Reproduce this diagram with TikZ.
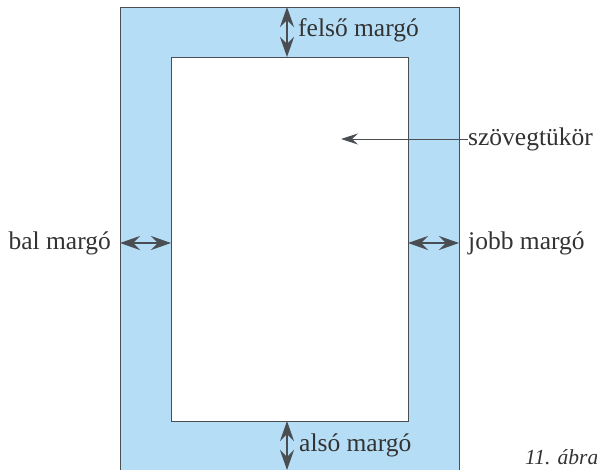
\documentclass[tikz,border=0pt]{standalone}
\usepackage{fontspec}
\setmainfont{Liberation Serif}
\usetikzlibrary{arrows.meta}
\definecolor{marginblue}{HTML}{B5DDF5}
\definecolor{inkgray}{HTML}{4A4E52}
\definecolor{textgray}{HTML}{333333}
\tikzset{
  lbl/.style={font=\fontsize{25.5}{28}\selectfont, text=textgray, inner sep=0pt},
  dimarrow/.style={draw=inkgray, line width=1.5pt, {Stealth[length=20pt,width=14pt,inset=7pt]}-{Stealth[length=20pt,width=14pt,inset=7pt]}},
  pointer/.style={draw=inkgray, line width=1pt, -{Stealth[length=17pt,width=11pt,inset=6pt]}},
  frame/.style={draw=inkgray, line width=1pt}
}
\begin{document}
\begin{tikzpicture}[x=1pt,y=-1pt]
  \useasboundingbox (0,0) rectangle (597,469);
  \clip (0,0) rectangle (597,469);
  % page with coloured margins and the text block
  \node[frame, fill=marginblue, minimum width=339pt, minimum height=480pt, anchor=north west, inner sep=0pt] (page) at (120,7) {};
  \node[frame, fill=white, minimum width=237pt, minimum height=364pt, anchor=north west, inner sep=0pt] (block) at (171,57) {};
  % margin arrows
  \coordinate (topA) at (287,7);
  \coordinate (topB) at (287,57);
  \coordinate (botA) at (287,421);
  \coordinate (botB) at (287,470);
  \coordinate (leftA) at (120,243);
  \coordinate (leftB) at (171,243);
  \coordinate (rightA) at (408,243);
  \coordinate (rightB) at (459,243);
  \draw[dimarrow] (topA) -- (topB);
  \draw[dimarrow] (botA) -- (botB);
  \draw[dimarrow] (leftA) -- (leftB);
  \draw[dimarrow] (rightA) -- (rightB);
  % labels
  \node[lbl, anchor=west] (felso) at (298,30) {felső margó};
  \node[lbl, anchor=west] (also) at (299,445) {alsó margó};
  \node[lbl, anchor=east] (bal) at (111,243) {bal margó};
  \node[lbl, anchor=west] (jobb) at (468,243) {jobb margó};
  \node[lbl, anchor=west] (tukor) at (468,139) {szövegtükör};
  \coordinate (tukorTip) at (341,139);
  \draw[pointer] (tukor.west) -- (tukorTip);
  \node[lbl, anchor=west, font=\fontsize{21.5}{24}\selectfont\itshape] (abra) at (525,457) {11. ábra};
\end{tikzpicture}
\end{document}
